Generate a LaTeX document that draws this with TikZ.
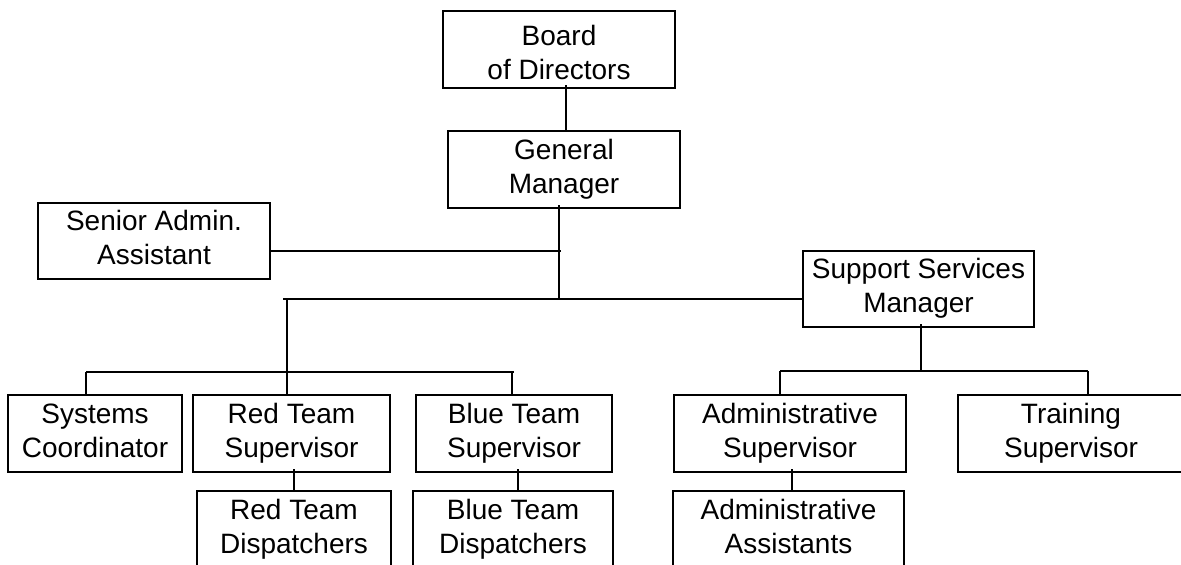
\documentclass[tikz,border=0pt]{standalone}
\usepackage{fontspec}
\setmainfont{Liberation Sans}
\begin{document}
\begin{tikzpicture}[x=1pt,y=-1pt,
  box/.style={draw=black,line width=2.6pt,inner sep=0pt,align=center,
    font=\fontsize{28}{34}\selectfont,minimum height=77pt},
  conn/.style={draw=black,line width=2pt}]
\clip (0,0) rectangle (1181,565);
\fill[white] (0,0) rectangle (1181,565);
% nodes
\node[box,minimum width=232pt] (board) at (559,49.5) {\rule{0pt}{26pt}Board\\of Directors};
\node[box,minimum width=232pt] (gm) at (564,169.5) {\strut General\\Manager\strut};
\node[box,minimum width=232pt,minimum height=76pt] (sa) at (154,241) {\strut Senior Admin.\\Assistant\strut};
\node[box,minimum width=231pt,minimum height=76pt] (ssm) at (918.5,289) {\strut Support Services\\Manager\strut};
\node[box,minimum width=174pt] (sc) at (95,433.5) {\strut Systems\\Coordinator\strut};
\node[box,minimum width=197pt] (rts) at (291.5,433.5) {\strut Red Team\\Supervisor\strut};
\node[box,minimum width=196pt] (bts) at (514,433.5) {\strut Blue Team\\Supervisor\strut};
\node[box,minimum width=232pt] (as) at (790,433.5) {\strut Administrative\\Supervisor\strut};
\node[box,minimum width=226pt] (ts) at (1071,433.5) {\strut Training\\Supervisor\strut};
\node[box,minimum width=194pt] (rtd) at (294,529.5) {\strut Red Team\\Dispatchers\strut};
\node[box,minimum width=200pt] (btd) at (513,529.5) {\strut Blue Team\\Dispatchers\strut};
\node[box,minimum width=231pt] (aa) at (788.5,529.5) {\strut Administrative\\Assistants\strut};
% guide coordinates
\coordinate (xb) at (566,0);
\coordinate (xg) at (559,0);
\coordinate (j1) at (559,299);
\coordinate (sal) at (561,251);
\coordinate (b1l) at (283,299);
\coordinate (rv) at (287,299);
\coordinate (b2l) at (86,372);
\coordinate (b2r) at (514,372);
\coordinate (bv) at (512,372);
\coordinate (xs) at (921,0);
\coordinate (b3l) at (780,371);
\coordinate (b3r) at (1088,371);
\coordinate (xr) at (294,0);
\coordinate (xbl) at (518,0);
\coordinate (xa) at (792,0);
% connectors
\draw[conn] ([yshift=4pt]board.south -| xb) -- (gm.north -| xb);
\draw[conn] ([yshift=4pt]gm.south -| xg) -- (j1);
\draw[conn] (sa.east |- sal) -- (sal);
\draw[conn] (b1l) -- (ssm.west |- b1l);
\draw[conn] (rv) -- (rv |- rts.north);
\draw[conn] (b2l) -- (b2r);
\draw[conn] (b2l) -- (b2l |- sc.north);
\draw[conn] (bv) -- (bv |- bts.north);
\draw[conn] ([yshift=4pt]ssm.south -| xs) -- (xs |- b3l);
\draw[conn] (b3l) -- (b3r);
\draw[conn] (b3l) -- (b3l |- as.north);
\draw[conn] (b3r) -- (b3r |- ts.north);
\draw[conn] ([yshift=4pt]rts.south -| xr) -- (rtd.north -| xr);
\draw[conn] ([yshift=4pt]bts.south -| xbl) -- (btd.north -| xbl);
\draw[conn] ([yshift=4pt]as.south -| xa) -- (aa.north -| xa);
\end{tikzpicture}
\end{document}
